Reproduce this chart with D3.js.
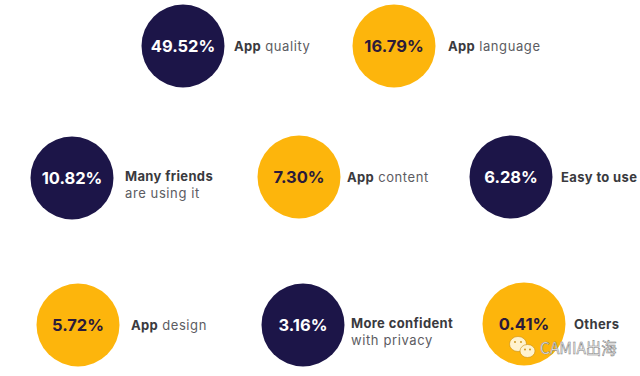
<!DOCTYPE html>
<html>
<head>
<meta charset="utf-8">
<script src="https://cdn.jsdelivr.net/npm/d3@7"></script>
<style>
  html, body { margin: 0; padding: 0; background: #fff; }
  svg { display: block; }
  text { font-family: Inter, "Open Sans", sans-serif; }
</style>
</head>
<body>
<div id="chart"></div>
<script>
/* Reasons for choosing an app, share of respondents */

const shares = [49.52, 16.79, 10.82, 7.30, 6.28, 5.72, 3.16, 0.41];
const boldLabels = ["App", "App", "Many friends", "App", "Easy to use", "App", "More confident", "Others"];
const plainLabels = ["quality", "language", "are using it", "content", "", "design", "with privacy", ""];
const groups = ["a", "b", "a", "b", "a", "b", "a", "b"];

const width = 640,
  height = 376,
  radius = 41.5;

// where each bubble sits, same order as the arrays above
const slots = [
  {cx: 183, cy: 46, lx: 234},
  {cx: 394, cy: 46, lx: 448},
  {cx: 72, cy: 178, lx: 125},
  {cx: 299, cy: 177, lx: 347},
  {cx: 511, cy: 177, lx: 561},
  {cx: 78, cy: 325, lx: 131},
  {cx: 303, cy: 325, lx: 351},
  {cx: 524, cy: 324, lx: 574}
];

const color = d3.scaleOrdinal().domain(["a", "b"]).range(["#1c1548", "#fdb50c"]);
const inkColor = d3.scaleOrdinal().domain(["a", "b"]).range(["#ffffff", "#2b1a3a"]);
const pct = d3.format(".2f");

const data = shares.map((s, i) => ({
  share: s,
  bold: boldLabels[i],
  plain: plainLabels[i],
  group: groups[i],
  ...slots[i]
}));

const svg = d3.select("#chart")
  .append("svg")
  .attr("width", width)
  .attr("height", height)
  .attr("viewBox", [0, 0, width, height]);

const bubble = svg.append("g")
  .selectAll("g")
  .data(data)
  .join("g")
  .attr("transform", d => `translate(${d.cx},${d.cy})`);

bubble.append("circle")
  .attr("r", radius)
  .attr("fill", d => color(d.group));

bubble.append("text")
  .attr("text-anchor", "middle")
  .attr("dy", "0.36em")
  .attr("font-size", 16.5)
  .attr("font-weight", 700)
  .attr("fill", d => inkColor(d.group))
  .text(d => pct(d.share) + "%");

// labels: one line when bold+plain are "App xxx", two lines otherwise
const label = svg.append("g")
  .selectAll("text")
  .data(data)
  .join("text")
  .attr("font-size", 13)
  .attr("fill", "#5c5c62");

const boldSpan = sel => sel
  .attr("font-weight", 700)
  .attr("fill", "#3a3a3e")
  .attr("letter-spacing", 0.35);

label.filter(d => d.bold === "App" || d.plain === "")
  .attr("x", d => d.lx)
  .attr("y", d => d.cy + 4.5)
  .each(function (d) {
    const t = d3.select(this);
    t.append("tspan").call(boldSpan).text(d.bold);
    if (d.plain) t.append("tspan").attr("dx", 4).attr("letter-spacing", 0.6).text(d.plain);
  });

label.filter(d => d.bold !== "App" && d.plain !== "")
  .each(function (d) {
    const t = d3.select(this);
    t.append("tspan").attr("x", d.lx).attr("y", d.cy + 3).call(boldSpan).text(d.bold);
    t.append("tspan").attr("x", d.lx).attr("y", d.cy + 20).attr("letter-spacing", 0.6).text(d.plain);
  });

// watermark
const mark = svg.append("g").attr("transform", "translate(510,337)");
mark.append("ellipse").attr("cx", 8).attr("cy", 7).attr("rx", 8.5).attr("ry", 7.5)
  .attr("fill", "#fff3cf").attr("stroke", "#c98f10").attr("stroke-width", 0.6);
mark.append("ellipse").attr("cx", 17.5).attr("cy", 14).attr("rx", 7.5).attr("ry", 6.5)
  .attr("fill", "#fff3cf").attr("stroke", "#c98f10").attr("stroke-width", 0.6);
mark.selectAll("circle")
  .data([[5, 5], [11, 5], [15, 12.5], [20, 12.5]])
  .join("circle")
  .attr("cx", d => d[0]).attr("cy", d => d[1]).attr("r", 0.9)
  .attr("fill", "#c98f10");
mark.append("text")
  .attr("x", 30).attr("y", 16.5)
  .attr("font-size", 15.5)
  .attr("fill", "#f2f2f2")
  .attr("stroke", "#7c7c7c")
  .attr("stroke-width", 0.5)
  .style("font-family", '"Noto Sans CJK SC", sans-serif')
  .text("CAMIA出海");
</script>
</body>
</html>
